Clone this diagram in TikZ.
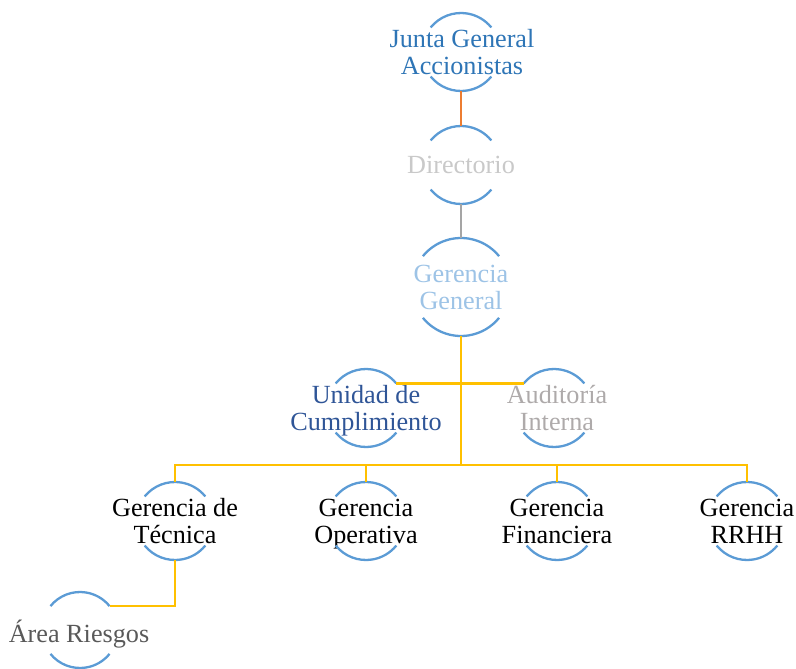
\documentclass[tikz,border=0pt]{standalone}
\usepackage{fontspec}
\setmainfont{Liberation Serif}
\usepackage{tikz}
\usetikzlibrary{positioning}
\definecolor{ringblue}{HTML}{5B9BD5}
\definecolor{juntacol}{HTML}{2E75B6}
\definecolor{dircol}{HTML}{C9C9C9}
\definecolor{gerencol}{HTML}{9DC3E6}
\definecolor{unidadcol}{HTML}{2F5597}
\definecolor{auditcol}{HTML}{AEAAAA}
\definecolor{riesgocol}{HTML}{595959}
\definecolor{orangeln}{HTML}{ED7D31}
\definecolor{grayln}{HTML}{A5A5A5}
\definecolor{goldln}{HTML}{FFC000}

\begin{document}
\begin{tikzpicture}[
  x=1pt, y=1pt,
  orb/.style={circle, inner sep=0pt, outer sep=0pt, minimum size=78pt},
  txt/.style={align=center, inner sep=0pt, text depth=0pt, font=\fontsize{26.2}{27}\selectfont},
  ring/.style={draw=ringblue, line width=2.3pt},
  link/.style={line width=2.4pt, draw=goldln},
]
  \useasboundingbox (0,0) rectangle (796,-669);

  % Top column
  \node[orb] (junta) at (461,-52) {};
  \node[txt, text=juntacol] (juntaT) at (462,-52) {Junta General\\Accionistas};
  \node[orb] (dir) at (461,-165) {};
  \node[txt, text=dircol] (dirT) at (dir.center) {Directorio};
  \node[orb, minimum size=98pt] (gg) at (461,-287) {};
  \node[txt, text=gerencol] (ggT) at (gg.center) {Gerencia\\General};

  % Staff units
  \node[orb] (uc) at (366,-408) {};
  \node[txt, text=unidadcol] (ucT) at (366,-408) {Unidad de\\Cumplimiento};
  \node[orb] (ai) at (554,-408) {};
  \node[txt, text=auditcol] (aiT) at (557,-408) {Auditoría\\Interna};

  % Managements
  \node[orb] (gt) at (175,-521) {};
  \node[txt] (gtT) at (gt.center) {Gerencia de\\Técnica};
  \node[orb] (go) at (366,-521) {};
  \node[txt] (goT) at (go.center) {Gerencia\\Operativa};
  \node[orb] (gf) at (557,-521) {};
  \node[txt] (gfT) at (gf.center) {Gerencia\\Financiera};
  \node[orb] (gr) at (747,-521) {};
  \node[txt] (grT) at (gr.center) {Gerencia\\RRHH};

  % Risk area
  \node[orb, minimum size=76pt] (ar) at (80,-630) {};
  \node[txt, text=riesgocol] (arT) at (79,-631) {Área Riesgos};

  % Rings (top and bottom arcs only)
  \foreach \n/\r in {junta/39, dir/39, gg/49, uc/39, ai/39, gt/39, go/39, gf/39, gr/39, ar/38} {
    \draw[ring] (\n.141) arc[start angle=141, end angle=39, radius=\r pt];
    \draw[ring] (\n.219) arc[start angle=219, end angle=321, radius=\r pt];
  }

  % Connectors
  \coordinate (bus) at (461,-465);
  \draw[link, draw=orangeln] (junta.south) -- (dir.north);
  \draw[link, draw=grayln] (dir.south) -- (gg.north);
  \draw[link] (gg.south) -- (bus);
  \draw[link] (uc.39) -- (ai.141);
  \foreach \n in {gt, go, gf, gr}
    \draw[link] (\n.north) |- (bus);
  \draw[link] (gt.south) |- (ar.39);
\end{tikzpicture}
\end{document}
